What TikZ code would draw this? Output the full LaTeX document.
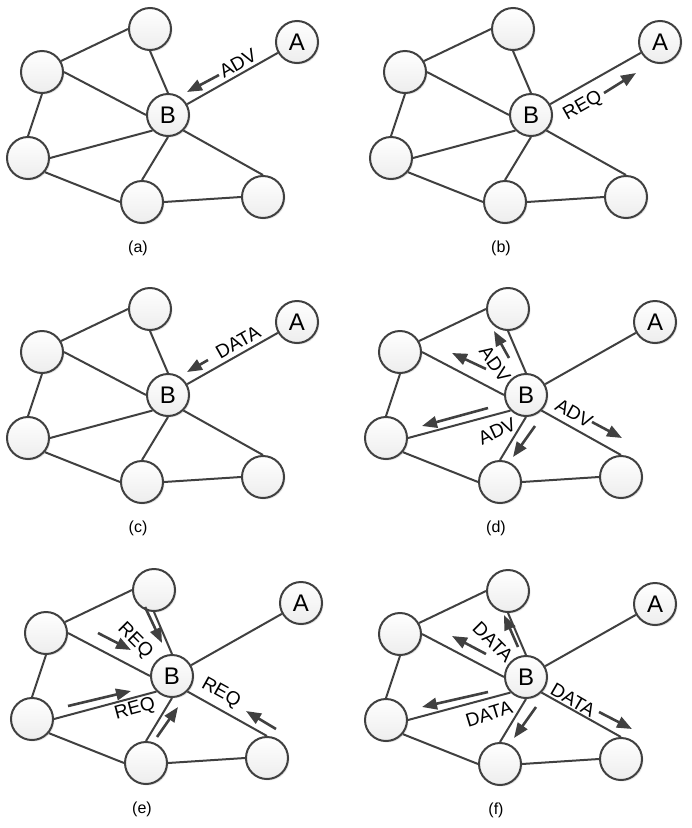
\documentclass[tikz,border=0pt]{standalone}
\usepackage{fontspec}
\setmainfont{Liberation Sans}
\usepackage{tikz}
\usetikzlibrary{arrows.meta,calc,shadows}

\definecolor{linegray}{RGB}{64,64,64}

\begin{document}
\begin{tikzpicture}[x=1pt,y=-1pt,
    peer/.style={circle,draw=linegray,line width=2pt,minimum size=42pt,inner sep=0pt,
        top color=white,bottom color=gray!14,
        drop shadow={shadow xshift=1.5pt,shadow yshift=-1.5pt,opacity=0.2},
        font=\fontsize{24}{24}\selectfont},
    link/.style={draw=linegray,line width=2pt},
    msg/.style={draw=linegray,line width=2.6pt,-{Triangle[length=15pt,width=11.5pt]}},
    tag/.style={font=\fontsize{19}{19}\selectfont,inner sep=0pt}]
\useasboundingbox (0,0) rectangle (692,828);

% the same network in every panel
\foreach \p/\dx/\dy in {a/0/0, b/363/0, c/0/280, d/358/280, e/4/561, f/358/562} {
  \begin{scope}[shift={(\dx,\dy)}]
    \node[peer] (\p T)  at (150,29)  {};
    \node[peer] (\p A)  at (297,42)  {A};
    \node[peer] (\p UL) at (42,72)   {};
    \node[peer] (\p B)  at (168,115) {B};
    \node[peer] (\p L)  at (28,158)  {};
    \node[peer] (\p BM) at (142,202) {};
    \node[peer] (\p BR) at (263,197) {};
    \node[font=\fontsize{16}{16}\selectfont] (\p cap) at (138,248) {(\p)};
  \end{scope}
  \draw[link] (\p UL.30) -- (\p T.west);
  \draw[link] (\p T.south) -- (\p B.north);
  \draw[link] (\p UL.east) -- (\p B.west);
  \draw[link] (\p UL.south) -- (\p L.north);
  \draw[link] (\p L.east) -- (\p B.225);
  \draw[link] (\p L.-40) -- (\p BM.west);
  \draw[link] (\p BM.north) -- (\p B.south);
  \draw[link] (\p BM.east) -- (\p BR.west);
  \draw[link] (\p B.-45) -- (\p BR.north);
  \draw[link] (\p B) -- (\p A);
}

% (a) A advertises to B
\draw[msg] ($(aB)+(51,-40)$) -- ($(aB)+(19,-23)$);
\node[tag,rotate=29.5] (aadv) at ($(aB)+(70,-52)$) {ADV};

% (b) B requests from A
\node[tag,rotate=29.5] (breq) at ($(bB)+(52,-9)$) {REQ};
\draw[msg] ($(bB)+(73,-22)$) -- ($(bB)+(105,-42)$);

% (c) A sends data to B
\draw[msg] ($(cB)+(40,-35)$) -- ($(cB)+(19,-23)$);
\node[tag,rotate=29.5] (cdata) at ($(cB)+(70,-53)$) {DATA};

% (d) B advertises to its neighbours
\foreach \sx/\sy/\tx/\ty in {-17/-37/-32/-64, -40/-26/-74/-42, -38/13/-104/31, 9/31/-13/62, 66/27/96/43}
  \draw[msg] ($(dB)+(\sx,\sy)$) -- ($(dB)+(\tx,\ty)$);
\node[tag,rotate=-55] (dadv1) at ($(dB)+(-31,-31)$) {ADV};
\node[tag,rotate=25] (dadv2) at ($(dB)+(-29,36)$) {ADV};
\node[tag,rotate=-29] (dadv3) at ($(dB)+(48,18)$) {ADV};

% (e) neighbours request from B
\foreach \sx/\sy/\tx/\ty in {-27/-69/-10/-33, -74/-43/-41/-26, -104/30/-41/15, -15/61/6/31, 104/53/74/35}
  \draw[msg] ($(eB)+(\sx,\sy)$) -- ($(eB)+(\tx,\ty)$);
\node[tag,rotate=-45] (ereq1) at ($(eB)+(-37,-35)$) {REQ};
\node[tag,rotate=15] (ereq2) at ($(eB)+(-37,33)$) {REQ};
\node[tag,rotate=-29] (ereq3) at ($(eB)+(49,17)$) {REQ};

% (f) B sends data to its neighbours
\foreach \sx/\sy/\tx/\ty in {-8/-30/-22/-62, -40/-23/-74/-41, -38/15/-104/30, 10/30/-12/61, 73/35/106/52}
  \draw[msg] ($(fB)+(\sx,\sy)$) -- ($(fB)+(\tx,\ty)$);
\node[tag,rotate=-45] (fdata1) at ($(fB)+(-33,-35)$) {DATA};
\node[tag,rotate=17] (fdata2) at ($(fB)+(-37,37)$) {DATA};
\node[tag,rotate=-30] (fdata3) at ($(fB)+(47,23)$) {DATA};
\end{tikzpicture}
\end{document}
